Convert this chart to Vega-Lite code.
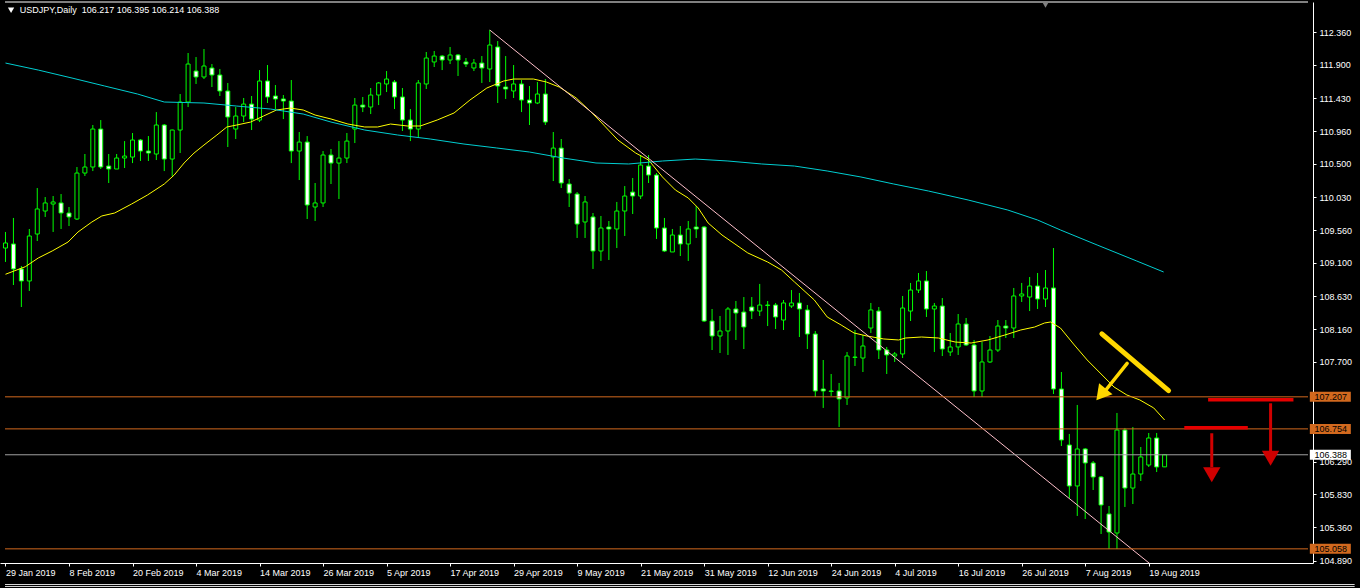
{
"$schema": "https://vega.github.io/schema/vega-lite/v6.json",
"width": 1313, "height": 561,
"autosize": {"type": "none"},
"padding": {"left": 0, "top": 2, "right": 47, "bottom": 25},
"background": "#000000",
"config": {"view": {"stroke": null, "fill": "#000000"}, "axis": {"labelFont": "Liberation Sans", "labelFontSize": 9, "labelColor": "#ffffff", "domainColor": "#ffffff", "tickColor": "#ffffff", "grid": false, "tickSize": 3, "labelOverlap": false, "labelFlush": false, "labelBound": false}},
"datasets": {
"candles": [
{"i":0,"o":109.311,"h":109.538,"l":109.114,"c":109.382},
{"i":1,"o":109.368,"h":109.736,"l":108.788,"c":109.015},
{"i":2,"o":109.015,"h":109.057,"l":108.477,"c":108.845},
{"i":3,"o":108.845,"h":109.580,"l":108.704,"c":109.481},
{"i":4,"o":109.509,"h":110.159,"l":109.410,"c":109.863},
{"i":5,"o":109.834,"h":110.032,"l":109.750,"c":109.948},
{"i":6,"o":109.933,"h":110.046,"l":109.538,"c":109.962},
{"i":7,"o":109.948,"h":110.074,"l":109.580,"c":109.806},
{"i":8,"o":109.806,"h":109.891,"l":109.622,"c":109.750},
{"i":9,"o":109.721,"h":110.456,"l":109.707,"c":110.371},
{"i":10,"o":110.371,"h":110.640,"l":110.329,"c":110.456},
{"i":11,"o":110.456,"h":111.050,"l":110.399,"c":110.993},
{"i":12,"o":110.993,"h":111.120,"l":110.428,"c":110.456},
{"i":13,"o":110.470,"h":110.640,"l":110.230,"c":110.428},
{"i":14,"o":110.428,"h":110.640,"l":110.428,"c":110.583},
{"i":15,"o":110.583,"h":110.823,"l":110.442,"c":110.611},
{"i":16,"o":110.597,"h":110.937,"l":110.512,"c":110.838},
{"i":17,"o":110.838,"h":110.852,"l":110.541,"c":110.682},
{"i":18,"o":110.682,"h":110.894,"l":110.541,"c":110.654},
{"i":19,"o":110.640,"h":111.233,"l":110.555,"c":111.050},
{"i":20,"o":111.050,"h":111.064,"l":110.399,"c":110.569},
{"i":21,"o":110.569,"h":110.985,"l":110.329,"c":110.979},
{"i":22,"o":110.979,"h":111.488,"l":110.654,"c":111.375},
{"i":23,"o":111.375,"h":112.068,"l":111.304,"c":111.912},
{"i":24,"o":111.813,"h":112.011,"l":111.630,"c":111.729},
{"i":25,"o":111.729,"h":112.124,"l":111.700,"c":111.884},
{"i":26,"o":111.856,"h":111.912,"l":111.587,"c":111.757},
{"i":27,"o":111.757,"h":111.842,"l":111.460,"c":111.531},
{"i":28,"o":111.531,"h":111.644,"l":110.739,"c":111.163},
{"i":29,"o":110.993,"h":111.304,"l":110.852,"c":111.177},
{"i":30,"o":111.177,"h":111.432,"l":111.092,"c":111.346},
{"i":31,"o":111.346,"h":111.460,"l":110.979,"c":111.134},
{"i":32,"o":111.120,"h":111.827,"l":111.092,"c":111.672},
{"i":33,"o":111.672,"h":111.898,"l":111.361,"c":111.446},
{"i":34,"o":111.460,"h":111.615,"l":111.276,"c":111.418},
{"i":35,"o":111.418,"h":111.474,"l":111.134,"c":111.389},
{"i":36,"o":111.389,"h":111.686,"l":110.512,"c":110.682},
{"i":37,"o":110.682,"h":110.951,"l":110.272,"c":110.809},
{"i":38,"o":110.809,"h":110.894,"l":109.721,"c":109.919},
{"i":39,"o":109.891,"h":110.230,"l":109.693,"c":109.948},
{"i":40,"o":109.948,"h":110.682,"l":109.891,"c":110.626},
{"i":41,"o":110.626,"h":110.711,"l":110.216,"c":110.512},
{"i":42,"o":110.512,"h":110.823,"l":110.004,"c":110.583},
{"i":43,"o":110.583,"h":110.937,"l":110.512,"c":110.823},
{"i":44,"o":110.993,"h":111.432,"l":110.795,"c":111.332},
{"i":45,"o":111.332,"h":111.446,"l":111.233,"c":111.304},
{"i":46,"o":111.304,"h":111.573,"l":111.205,"c":111.474},
{"i":47,"o":111.474,"h":111.658,"l":111.332,"c":111.644},
{"i":48,"o":111.630,"h":111.813,"l":111.516,"c":111.700},
{"i":49,"o":111.658,"h":111.686,"l":111.276,"c":111.446},
{"i":50,"o":111.446,"h":111.573,"l":110.965,"c":111.120},
{"i":51,"o":111.120,"h":111.276,"l":110.823,"c":110.993},
{"i":52,"o":110.993,"h":111.686,"l":110.880,"c":111.644},
{"i":53,"o":111.630,"h":112.082,"l":111.559,"c":111.997},
{"i":54,"o":111.941,"h":112.096,"l":111.870,"c":112.025},
{"i":55,"o":112.025,"h":112.040,"l":111.827,"c":111.969},
{"i":56,"o":111.969,"h":112.153,"l":111.912,"c":112.040},
{"i":57,"o":112.040,"h":112.054,"l":111.743,"c":111.969},
{"i":58,"o":111.941,"h":111.997,"l":111.870,"c":111.912},
{"i":59,"o":111.856,"h":111.983,"l":111.813,"c":111.926},
{"i":60,"o":111.926,"h":112.025,"l":111.644,"c":111.856},
{"i":61,"o":111.842,"h":112.393,"l":111.658,"c":112.181},
{"i":62,"o":112.153,"h":112.237,"l":111.361,"c":111.601},
{"i":63,"o":111.587,"h":112.025,"l":111.418,"c":111.559},
{"i":64,"o":111.531,"h":111.898,"l":111.432,"c":111.630},
{"i":65,"o":111.630,"h":111.686,"l":111.233,"c":111.403},
{"i":66,"o":111.403,"h":111.601,"l":111.050,"c":111.361},
{"i":67,"o":111.361,"h":111.658,"l":111.346,"c":111.488},
{"i":68,"o":111.488,"h":111.700,"l":111.050,"c":111.092},
{"i":69,"o":110.597,"h":110.951,"l":110.258,"c":110.724},
{"i":70,"o":110.724,"h":110.852,"l":110.159,"c":110.230},
{"i":71,"o":110.216,"h":110.286,"l":109.891,"c":110.088},
{"i":72,"o":110.074,"h":110.102,"l":109.453,"c":109.650},
{"i":73,"o":109.679,"h":110.046,"l":109.453,"c":109.962},
{"i":74,"o":109.750,"h":109.806,"l":109.015,"c":109.269},
{"i":75,"o":109.269,"h":109.764,"l":109.128,"c":109.594},
{"i":76,"o":109.608,"h":109.693,"l":109.142,"c":109.580},
{"i":77,"o":109.580,"h":109.962,"l":109.311,"c":109.834},
{"i":78,"o":109.834,"h":110.187,"l":109.481,"c":110.046},
{"i":79,"o":110.102,"h":110.301,"l":109.792,"c":110.046},
{"i":80,"o":110.046,"h":110.626,"l":110.004,"c":110.484},
{"i":81,"o":110.470,"h":110.626,"l":110.230,"c":110.343},
{"i":82,"o":110.343,"h":110.371,"l":109.439,"c":109.594},
{"i":83,"o":109.594,"h":109.736,"l":109.255,"c":109.269},
{"i":84,"o":109.255,"h":109.580,"l":109.255,"c":109.495},
{"i":85,"o":109.495,"h":109.622,"l":109.198,"c":109.368},
{"i":86,"o":109.368,"h":109.693,"l":109.128,"c":109.580},
{"i":87,"o":109.608,"h":109.905,"l":109.453,"c":109.580},
{"i":88,"o":109.608,"h":109.622,"l":108.265,"c":108.279},
{"i":89,"o":108.279,"h":108.449,"l":107.869,"c":108.067},
{"i":90,"o":108.067,"h":108.350,"l":107.827,"c":108.138},
{"i":91,"o":108.138,"h":108.477,"l":107.799,"c":108.449},
{"i":92,"o":108.449,"h":108.562,"l":108.011,"c":108.392},
{"i":93,"o":108.406,"h":108.618,"l":107.883,"c":108.194},
{"i":94,"o":108.477,"h":108.618,"l":108.307,"c":108.420},
{"i":95,"o":108.420,"h":108.803,"l":108.350,"c":108.505},
{"i":96,"o":108.498,"h":108.562,"l":108.208,"c":108.505},
{"i":97,"o":108.505,"h":108.534,"l":108.166,"c":108.336},
{"i":98,"o":108.293,"h":108.576,"l":108.152,"c":108.534},
{"i":99,"o":108.491,"h":108.717,"l":108.463,"c":108.534},
{"i":100,"o":108.534,"h":108.675,"l":108.053,"c":108.449},
{"i":101,"o":108.435,"h":108.505,"l":107.883,"c":108.095},
{"i":102,"o":108.095,"h":108.138,"l":107.205,"c":107.290},
{"i":103,"o":107.318,"h":107.728,"l":107.050,"c":107.290},
{"i":104,"o":107.290,"h":107.530,"l":107.219,"c":107.283},
{"i":105,"o":107.290,"h":107.403,"l":106.781,"c":107.177},
{"i":106,"o":107.191,"h":107.841,"l":107.092,"c":107.784},
{"i":107,"o":107.770,"h":108.152,"l":107.643,"c":107.763},
{"i":108,"o":107.756,"h":108.081,"l":107.558,"c":107.926},
{"i":109,"o":108.180,"h":108.534,"l":108.110,"c":108.435},
{"i":110,"o":108.420,"h":108.477,"l":107.742,"c":107.869},
{"i":111,"o":107.869,"h":107.912,"l":107.530,"c":107.799},
{"i":112,"o":107.784,"h":107.841,"l":107.700,"c":107.813},
{"i":113,"o":107.813,"h":108.633,"l":107.756,"c":108.463},
{"i":114,"o":108.420,"h":108.817,"l":108.279,"c":108.717},
{"i":115,"o":108.717,"h":108.958,"l":108.675,"c":108.845},
{"i":116,"o":108.845,"h":108.986,"l":108.336,"c":108.449},
{"i":117,"o":108.449,"h":108.534,"l":107.841,"c":108.491},
{"i":118,"o":108.491,"h":108.604,"l":107.784,"c":107.883},
{"i":119,"o":107.841,"h":108.110,"l":107.784,"c":107.912},
{"i":120,"o":107.912,"h":108.378,"l":107.799,"c":108.237},
{"i":121,"o":108.237,"h":108.322,"l":107.926,"c":107.940},
{"i":122,"o":107.940,"h":108.011,"l":107.205,"c":107.290},
{"i":123,"o":107.290,"h":107.983,"l":107.205,"c":107.700},
{"i":124,"o":107.700,"h":108.067,"l":107.686,"c":107.869},
{"i":125,"o":107.869,"h":108.293,"l":107.841,"c":108.208},
{"i":126,"o":108.208,"h":108.293,"l":108.039,"c":108.180},
{"i":127,"o":108.180,"h":108.746,"l":108.039,"c":108.633},
{"i":128,"o":108.633,"h":108.817,"l":108.548,"c":108.661},
{"i":129,"o":108.618,"h":108.901,"l":108.420,"c":108.774},
{"i":130,"o":108.774,"h":108.958,"l":108.449,"c":108.590},
{"i":131,"o":108.590,"h":109.000,"l":108.477,"c":108.746},
{"i":132,"o":108.746,"h":109.311,"l":107.247,"c":107.318},
{"i":133,"o":107.318,"h":107.558,"l":106.512,"c":106.597},
{"i":134,"o":106.526,"h":106.682,"l":105.777,"c":105.947},
{"i":135,"o":105.947,"h":107.092,"l":105.523,"c":106.470},
{"i":136,"o":106.470,"h":106.484,"l":105.480,"c":106.272},
{"i":137,"o":106.272,"h":106.300,"l":105.890,"c":106.074},
{"i":138,"o":106.074,"h":106.088,"l":105.268,"c":105.678},
{"i":139,"o":105.551,"h":105.664,"l":105.056,"c":105.296},
{"i":140,"o":105.282,"h":106.979,"l":105.056,"c":106.738},
{"i":141,"o":106.738,"h":106.767,"l":105.650,"c":105.918},
{"i":142,"o":105.918,"h":106.781,"l":105.692,"c":106.116},
{"i":143,"o":106.116,"h":106.498,"l":106.017,"c":106.357},
{"i":144,"o":106.243,"h":106.696,"l":106.215,"c":106.625},
{"i":145,"o":106.625,"h":106.696,"l":106.144,"c":106.215},
{"i":146,"o":106.217,"h":106.395,"l":106.214,"c":106.388}
],
"ma": [
{"s":"fast","i":0,"v":108.940},{"s":"fast","i":2.5,"v":109.047},{"s":"fast","i":4.13,"v":109.170},{"s":"fast","i":5.88,"v":109.269},{"s":"fast","i":7.88,"v":109.396},{"s":"fast","i":9.13,"v":109.537},{"s":"fast","i":10.88,"v":109.679},{"s":"fast","i":12.13,"v":109.764},{"s":"fast","i":13.75,"v":109.806},{"s":"fast","i":15.88,"v":109.933},{"s":"fast","i":17.88,"v":110.060},{"s":"fast","i":20,"v":110.216},{"s":"fast","i":21.25,"v":110.343},{"s":"fast","i":22.5,"v":110.513},{"s":"fast","i":23.75,"v":110.654},{"s":"fast","i":25,"v":110.767},{"s":"fast","i":26.63,"v":110.909},{"s":"fast","i":27.88,"v":111.022},{"s":"fast","i":29.13,"v":111.050},{"s":"fast","i":30.88,"v":111.092},{"s":"fast","i":32.5,"v":111.177},{"s":"fast","i":34.13,"v":111.262},{"s":"fast","i":35.88,"v":111.290},{"s":"fast","i":37.5,"v":111.262},{"s":"fast","i":39,"v":111.191},{"s":"fast","i":41,"v":111.135},{"s":"fast","i":43.13,"v":111.064},{"s":"fast","i":45.25,"v":111.022},{"s":"fast","i":46.88,"v":111.022},{"s":"fast","i":48.5,"v":111.064},{"s":"fast","i":50.63,"v":111.036},{"s":"fast","i":52.25,"v":111.036},{"s":"fast","i":54.38,"v":111.121},{"s":"fast","i":56.5,"v":111.220},{"s":"fast","i":58.5,"v":111.403},{"s":"fast","i":60.63,"v":111.573},{"s":"fast","i":62.75,"v":111.672},{"s":"fast","i":64,"v":111.700},{"s":"fast","i":66.5,"v":111.700},{"s":"fast","i":68.13,"v":111.658},{"s":"fast","i":69.75,"v":111.587},{"s":"fast","i":71.88,"v":111.432},{"s":"fast","i":73.5,"v":111.262},{"s":"fast","i":75,"v":111.092},{"s":"fast","i":77.13,"v":110.838},{"s":"fast","i":79.38,"v":110.654},{"s":"fast","i":81,"v":110.555},{"s":"fast","i":82.75,"v":110.315},{"s":"fast","i":84.38,"v":110.131},{"s":"fast","i":86,"v":110.018},{"s":"fast","i":87.25,"v":109.877},{"s":"fast","i":88.5,"v":109.665},{"s":"fast","i":90.25,"v":109.495},{"s":"fast","i":91.88,"v":109.368},{"s":"fast","i":93.5,"v":109.241},{"s":"fast","i":96,"v":109.113},{"s":"fast","i":97.75,"v":109.000},{"s":"fast","i":99.38,"v":108.831},{"s":"fast","i":101.88,"v":108.576},{"s":"fast","i":103.5,"v":108.336},{"s":"fast","i":105.25,"v":108.223},{"s":"fast","i":106.88,"v":108.110},{"s":"fast","i":108.5,"v":108.067},{"s":"fast","i":110.63,"v":108.025},{"s":"fast","i":112.5,"v":108.011},{"s":"fast","i":113.38,"v":108.039},{"s":"fast","i":115.38,"v":108.053},{"s":"fast","i":117.5,"v":108.039},{"s":"fast","i":119.63,"v":107.982},{"s":"fast","i":121.63,"v":107.968},{"s":"fast","i":123.75,"v":108.011},{"s":"fast","i":125.88,"v":108.081},{"s":"fast","i":127.88,"v":108.152},{"s":"fast","i":129.63,"v":108.194},{"s":"fast","i":130.88,"v":108.251},{"s":"fast","i":131.63,"v":108.265},{"s":"fast","i":132.88,"v":108.180},{"s":"fast","i":134.63,"v":107.940},{"s":"fast","i":136.25,"v":107.728},{"s":"fast","i":137.88,"v":107.544},{"s":"fast","i":139.63,"v":107.346},{"s":"fast","i":141.25,"v":107.233},{"s":"fast","i":142.88,"v":107.163},{"s":"fast","i":144.63,"v":107.050},{"s":"fast","i":146,"v":106.880},
{"s":"slow","i":0,"v":111.926},{"s":"slow","i":4.13,"v":111.827},{"s":"slow","i":8.38,"v":111.714},{"s":"slow","i":12.5,"v":111.601},{"s":"slow","i":16.63,"v":111.488},{"s":"slow","i":20,"v":111.375},{"s":"slow","i":25,"v":111.361},{"s":"slow","i":29.13,"v":111.318},{"s":"slow","i":33.38,"v":111.276},{"s":"slow","i":37.5,"v":111.205},{"s":"slow","i":41,"v":111.092},{"s":"slow","i":45.25,"v":110.979},{"s":"slow","i":49.38,"v":110.909},{"s":"slow","i":53.5,"v":110.852},{"s":"slow","i":57.75,"v":110.781},{"s":"slow","i":61.88,"v":110.725},{"s":"slow","i":66,"v":110.668},{"s":"slow","i":70.25,"v":110.583},{"s":"slow","i":74.38,"v":110.513},{"s":"slow","i":78.5,"v":110.499},{"s":"slow","i":82.75,"v":110.541},{"s":"slow","i":86.88,"v":110.569},{"s":"slow","i":91,"v":110.541},{"s":"slow","i":95.25,"v":110.499},{"s":"slow","i":99.38,"v":110.470},{"s":"slow","i":103.5,"v":110.400},{"s":"slow","i":107.75,"v":110.315},{"s":"slow","i":111.88,"v":110.216},{"s":"slow","i":116.25,"v":110.117},{"s":"slow","i":121.25,"v":109.990},{"s":"slow","i":126.25,"v":109.848},{"s":"slow","i":130,"v":109.707},{"s":"slow","i":132.88,"v":109.566},{"s":"slow","i":137.5,"v":109.354},{"s":"slow","i":142.5,"v":109.127},{"s":"slow","i":145.88,"v":108.972}
],
"trend": [{"i":61,"v":112.393},{"i":146,"v":104.68}],
"levels": [
{"p":107.207,"kind":"level","label":"107.207"},
{"p":106.754,"kind":"level","label":"106.754"},
{"p":106.388,"kind":"bid","label":"106.388"},
{"p":105.058,"kind":"level","label":"105.058"}
],
"yline": [{"i":138.1,"v":108.096},{"i":146.5,"v":107.294}],
"yshaft": [{"i":141.28,"v":107.681},{"i":138.5,"v":107.290}],
"yhead": [{"i":138.0,"v":107.240}],
"redlines": [{"a":148.48,"b":156.48,"p":106.771},{"a":151.48,"b":162.23,"p":107.167}],
"redarrows": [{"i":151.94,"top":106.692,"bot":106.215,"head":106.107},{"i":159.35,"top":107.116,"bot":106.428,"head":106.338}],
"header": [{"i":1.8,"v":112.669,"t":"USDJPY,Daily\u00a0\u00a0106.217 106.395 106.214 106.388"}]
},
"layer": [
{"data": {"name": "candles"},
 "mark": {"type": "rule", "color": "#00ff00", "strokeWidth": 1},
 "encoding": {
  "x": {"field": "i", "type": "quantitative", "title": null, "scale": {"domain": [-0.0625, 164.0625], "nice": false, "zero": false},
        "axis": {"orient": "bottom", "values": [0,8,16,24,32,40,48,56,64,72,80,88,96,104,112,120,128,136,144],
                 "labelExpr": "['29 Jan 2019','8 Feb 2019','20 Feb 2019','4 Mar 2019','14 Mar 2019','26 Mar 2019','5 Apr 2019','17 Apr 2019','29 Apr 2019','9 May 2019','21 May 2019','31 May 2019','12 Jun 2019','24 Jun 2019','4 Jul 2019','16 Jul 2019','26 Jul 2019','7 Aug 2019','19 Aug 2019'][round(datum.value/8)]",
                 "labelAlign": "left", "labelBaseline": "top", "labelPadding": 2, "labelOverlap": false, "labelFlush": false, "labelBound": false, "title": null}},
  "y": {"field": "l", "type": "quantitative", "title": null, "scale": {"domain": [104.858, 112.789], "nice": false, "zero": false},
        "axis": {"orient": "right", "values": [104.89,105.36,105.83,106.29,107.7,108.16,108.63,109.1,109.56,110.03,110.5,110.96,111.43,111.9,112.36],
                 "format": ".3f", "labelPadding": 3, "labelBaseline": "middle", "labelOverlap": false, "labelFlush": false, "labelBound": false, "title": null}},
  "y2": {"field": "h"}
 }},
{"data": {"name": "candles"},
 "mark": {"type": "bar", "width": 4, "stroke": "#00ff00", "strokeWidth": 1},
 "encoding": {
  "x": {"field": "i", "type": "quantitative", "title": null},
  "y": {"field": "o", "type": "quantitative", "title": null},
  "y2": {"field": "c"},
  "fill": {"condition": {"test": "datum.c > datum.o", "value": "#000000"}, "value": "#ffffff"}
 }},
{"data": {"name": "ma"},
 "mark": {"type": "line", "strokeWidth": 1},
 "encoding": {
  "x": {"field": "i", "type": "quantitative", "title": null},
  "y": {"field": "v", "type": "quantitative", "title": null},
  "color": {"field": "s", "type": "nominal", "scale": {"domain": ["fast", "slow"], "range": ["#ffff00", "#00ced1"]}, "legend": null}
 }},
{"data": {"name": "trend"},
 "mark": {"type": "line", "strokeWidth": 1, "color": "#ffc0cb", "clip": true},
 "encoding": {
  "x": {"field": "i", "type": "quantitative", "title": null},
  "y": {"field": "v", "type": "quantitative", "title": null}
 }},
{"data": {"name": "levels"},
 "mark": {"type": "rule", "strokeWidth": 1},
 "encoding": {
  "x": {"datum": -0.0625, "type": "quantitative"},
  "x2": {"datum": 164.0625},
  "y": {"field": "p", "type": "quantitative", "title": null},
  "color": {"condition": {"test": "datum.kind == 'bid'", "value": "#a0a0a0"}, "value": "#d2691e"}
 }},
{"data": {"values": [{"p": 112.789}]},
 "mark": {"type": "rule", "strokeWidth": 1, "color": "#ffffff"},
 "encoding": {
  "x": {"datum": -0.0625, "type": "quantitative"},
  "x2": {"datum": 164.0625},
  "y": {"field": "p", "type": "quantitative", "title": null}
 }},
{"data": {"name": "levels"},
 "mark": {"type": "tick", "orient": "horizontal", "size": 41, "thickness": 10, "opacity": 1},
 "encoding": {
  "x": {"datum": 166.875, "type": "quantitative"},
  "y": {"field": "p", "type": "quantitative", "title": null},
  "color": {"condition": {"test": "datum.kind == 'bid'", "value": "#ffffff"}, "value": "#d2691e"}
 }},
{"data": {"name": "levels"},
 "mark": {"type": "text", "align": "left", "baseline": "middle", "font": "Liberation Sans", "fontSize": 9, "color": "#000000"},
 "encoding": {
  "x": {"datum": 164.875, "type": "quantitative"},
  "y": {"field": "p", "type": "quantitative", "title": null},
  "text": {"field": "label"}
 }},
{"data": {"name": "header"},
 "mark": {"type": "text", "align": "left", "baseline": "middle", "font": "Liberation Sans", "fontSize": 9, "color": "#ffffff"},
 "encoding": {
  "x": {"field": "i", "type": "quantitative", "title": null},
  "y": {"field": "v", "type": "quantitative", "title": null},
  "text": {"field": "t"}
 }},
{"data": {"values": [{"i": 0.7, "v": 112.672, "k": "menu"}]},
 "mark": {"type": "point", "shape": "triangle-down", "filled": true, "size": 40, "color": "#ffffff", "opacity": 1},
 "encoding": {
  "x": {"field": "i", "type": "quantitative", "title": null},
  "y": {"field": "v", "type": "quantitative", "title": null}
 }},
{"data": {"values": [{"i": 131, "v": 112.752, "k": "shift"}]},
 "mark": {"type": "point", "shape": "triangle-down", "filled": true, "size": 50, "color": "#808080", "opacity": 1},
 "encoding": {
  "x": {"field": "i", "type": "quantitative", "title": null},
  "y": {"field": "v", "type": "quantitative", "title": null}
 }},
{"data": {"name": "yline"},
 "mark": {"type": "line", "strokeWidth": 5, "strokeCap": "round", "color": "#ffd800"},
 "encoding": {
  "x": {"field": "i", "type": "quantitative", "title": null},
  "y": {"field": "v", "type": "quantitative", "title": null}
 }},
{"data": {"name": "yshaft"},
 "mark": {"type": "line", "strokeWidth": 3.5, "strokeCap": "round", "color": "#ffd800"},
 "encoding": {
  "x": {"field": "i", "type": "quantitative", "title": null},
  "y": {"field": "v", "type": "quantitative", "title": null}
 }},
{"data": {"name": "yhead"},
 "mark": {"type": "point", "shape": "triangle-down", "filled": true, "size": 300, "angle": 39, "color": "#ffd800", "opacity": 1},
 "encoding": {
  "x": {"field": "i", "type": "quantitative", "title": null},
  "y": {"field": "v", "type": "quantitative", "title": null}
 }},
{"data": {"name": "redlines"},
 "mark": {"type": "rule", "strokeWidth": 3.5, "color": "#e60000"},
 "encoding": {
  "x": {"field": "a", "type": "quantitative", "title": null},
  "x2": {"field": "b"},
  "y": {"field": "p", "type": "quantitative", "title": null}
 }},
{"data": {"name": "redarrows"},
 "mark": {"type": "rule", "strokeWidth": 3, "color": "#d00000"},
 "encoding": {
  "x": {"field": "i", "type": "quantitative", "title": null},
  "y": {"field": "top", "type": "quantitative", "title": null},
  "y2": {"field": "bot"}
 }},
{"data": {"name": "redarrows"},
 "mark": {"type": "point", "shape": "triangle-down", "filled": true, "size": 300, "color": "#d00000", "opacity": 1},
 "encoding": {
  "x": {"field": "i", "type": "quantitative", "title": null},
  "y": {"field": "head", "type": "quantitative", "title": null}
 }},
{"data": {"values": [{"p": 104.554}, {"p": 104.526}]},
 "mark": {"type": "rule", "strokeWidth": 1, "color": "#d8d8d8"},
 "encoding": {
  "x": {"datum": -0.0625, "type": "quantitative"},
  "x2": {"datum": 169.9375},
  "y": {"field": "p", "type": "quantitative", "title": null}
 }}
]
}
